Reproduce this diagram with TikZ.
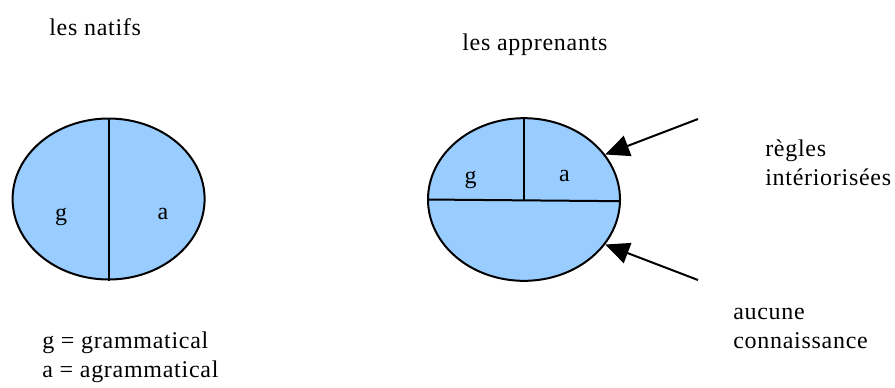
\documentclass[tikz,border=0pt]{standalone}
\usepackage{fontspec}
\setmainfont{Liberation Serif}[LetterSpace=3]
\usetikzlibrary{shapes.geometric,arrows.meta}
\definecolor{bleu}{HTML}{99CCFF}
\begin{document}
\begin{tikzpicture}[
    x=0.75pt, y=-0.75pt,
    every node/.style={inner sep=0pt, font=\fontsize{18}{21.75}\selectfont},
    bulle/.style={ellipse, draw, line width=1.5pt, fill=bleu, minimum width=144pt},
    txt/.style={anchor=base west, align=left},
    fleche/.style={line width=1.5pt, -{Triangle[length=18pt,width=16pt]}}
]
\useasboundingbox (0,0) rectangle (895,387);

% ================= les natifs =================

\node[bulle, minimum height=120.75pt] (nat) at (108.6,199) {};
\draw[line width=1.5pt] (nat.north)--(nat.south);

\node[anchor=base] (ng) at (61,220.7)  {g};
\node[anchor=base] (na) at (163,219)   {a};

\node[txt] (tnat) at (49,35) {les natifs};
\node[txt] (leg) at (42,377) {g = grammatical\\a = agrammatical};

% ================= les apprenants =================

\node[bulle, minimum height=122pt] (app) at (524,199.5) {};
\draw[line width=1.5pt] (app.west)--(app.-1);
\draw[line width=1.5pt] (app.north)--(app.center);

\node[anchor=base] (ag) at (470.5,183) {g};
\node[anchor=base] (aa) at (564.5,181) {a};

\node[txt] (tapp) at (462,50) {les apprenants};

% ================= fleches =================

\coordinate (d1) at (698,119);
\coordinate (d2) at (698,280);

\draw[fleche] (d1)--(app.29);
\draw[fleche] (d2)--(app.-29);

\node[txt] (regles) at (765,185) {règles\\intériorisées};
\node[txt] (aucune) at (733,348) {aucune\\connaissance};

\end{tikzpicture}
\end{document}
